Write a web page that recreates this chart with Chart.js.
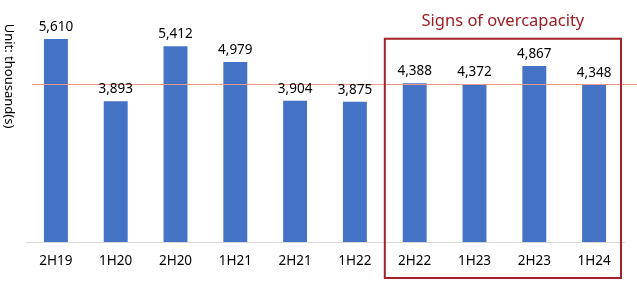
<!DOCTYPE html>
<html><head><meta charset="utf-8">
<script src="https://cdn.jsdelivr.net/npm/chart.js@4"></script>
<style>html,body{margin:0;padding:0;background:#fff}#wrap{width:637px;height:281px;position:relative}</style>
</head><body><div id="wrap"><canvas id="c" width="637" height="281"></canvas></div>
<script>
const categories = ["2H19","1H20","2H20","1H21","2H21","1H22","2H22","1H23","2H23","1H24"];
const values = [5610,3893,5412,4979,3904,3875,4388,4372,4867,4348];
const referenceValue = 4360;
const highlightStartIndex = 6;
const highlightTitle = "Signs of overcapacity";
const axisTitle = "Unit: thousand(s)";
const FONT = "'Noto Sans', 'Open Sans', sans-serif";

const overlay = {
  id:'overlay',
  afterDatasetsDraw(chart){
    const {ctx, chartArea:a, scales:{x,y}} = chart;
    ctx.save();
    const ry = Math.round(y.getPixelForValue(referenceValue))+0.5;
    ctx.strokeStyle = '#e8978f'; ctx.lineWidth = 1;
    ctx.beginPath(); ctx.moveTo(32, ry); ctx.lineTo(chart.width, ry); ctx.stroke();
    ctx.fillStyle = '#000'; ctx.font = "13.5px " + FONT; ctx.textAlign='center'; ctx.textBaseline='bottom';
    const meta = chart.getDatasetMeta(0);
    meta.data.forEach((b,i)=>{ ctx.fillText(values[i].toLocaleString('en-US'), b.x, b.y-5); });
    const x0 = (x.getPixelForValue(highlightStartIndex-1)+x.getPixelForValue(highlightStartIndex))/2;
    const x1 = a.right - 3;
    const y0 = y.getPixelForValue(5620);
    const y1 = chart.height - 3;
    ctx.strokeStyle = '#a3222a'; ctx.lineWidth = 2;
    ctx.strokeRect(x0, y0, x1-x0, y1-y0);
    ctx.fillStyle = '#9c1d24'; ctx.font = "16.5px " + FONT; ctx.textBaseline='middle';
    ctx.fillText(highlightTitle, (x0+x1)/2, 21);
    ctx.translate(9, 76); ctx.rotate(Math.PI/2);
    ctx.fillStyle = '#000'; ctx.font = "13px " + FONT; ctx.textAlign='center'; ctx.textBaseline='middle';
    ctx.fillText(axisTitle, 0, 0);
    ctx.restore();
  }
};

new Chart(document.getElementById('c'), {
  type:'bar',
  data:{ labels:categories, datasets:[{ data:values, backgroundColor:'#4472c4', barPercentage:0.8, categoryPercentage:0.5 }]},
  options:{
    responsive:false, animation:false,
    layout:{ padding:{ left:26, right:13, top:25, bottom:0 } },
    plugins:{ legend:{display:false}, tooltip:{enabled:false} },
    scales:{
      x:{ grid:{display:false}, border:{color:'#d9d9d9'}, ticks:{ color:'#000', font:{size:13.5, family:FONT}, padding:3 },
          afterFit(scale){ scale.height = 39; } },
      y:{ display:false, min:0, max:6000 }
    }
  },
  plugins:[overlay]
});
</script></body></html>
